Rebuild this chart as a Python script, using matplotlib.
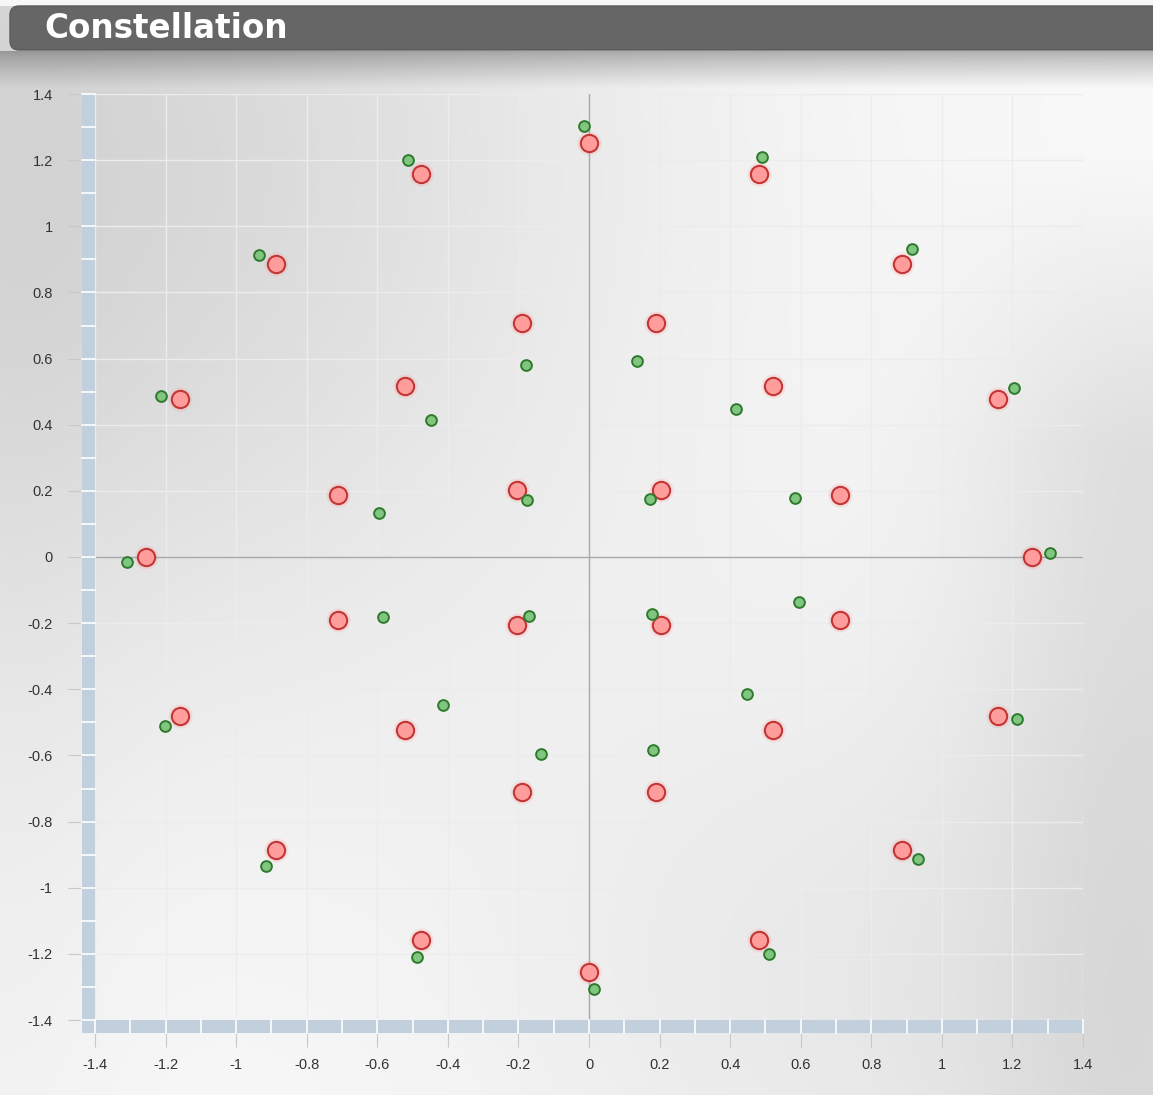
import numpy as np
import matplotlib
matplotlib.use('Agg')
import matplotlib.pyplot as plt
from matplotlib.patches import FancyBboxPatch, Rectangle

# ideal constellation points (red)
ideal_i = [0.0, -0.476, 0.482, -0.887, 0.887, -0.19, 0.19, -0.521, 0.521,
           -1.159, 1.159, -0.711, 0.711, -0.204, 0.204, -1.255, 1.255,
           -0.711, 0.711, -0.204, 0.204, -1.159, 1.159, -0.521, 0.521,
           -0.19, 0.19, -0.887, 0.887, -0.476, 0.482, 0.0]
ideal_q = [1.252, 1.158, 1.158, 0.886, 0.886, 0.708, 0.708, 0.517, 0.517,
           0.478, 0.478, 0.187, 0.187, 0.203, 0.203, 0.0, 0.0,
           -0.19, -0.19, -0.206, -0.206, -0.481, -0.481, -0.523, -0.523,
           -0.711, -0.711, -0.886, -0.886, -1.158, -1.158, -1.255]

# measured points (green)
meas_i = [-0.014, -0.513, 0.49, -0.935, 0.915, -0.179, 0.136, -0.448, 0.417,
          -1.213, 1.204, -0.595, 0.584, -0.176, 0.173, -1.309, 1.306,
          -0.584, 0.595, -0.17, 0.179, -1.201, 1.213, -0.414, 0.448,
          -0.136, 0.181, -0.915, 0.932, -0.487, 0.51, 0.014]
meas_q = [1.303, 1.2, 1.21, 0.913, 0.931, 0.581, 0.593, 0.414, 0.448,
          0.487, 0.511, 0.133, 0.178, 0.172, 0.175, -0.015, 0.012,
          -0.181, -0.136, -0.178, -0.172, -0.511, -0.49, -0.448, -0.414,
          -0.596, -0.584, -0.934, -0.913, -1.21, -1.2, -1.306]

ticks = [-1.4, -1.2, -1, -0.8, -0.6, -0.4, -0.2, 0, 0.2, 0.4, 0.6, 0.8, 1, 1.2, 1.4]
tick_labels = ['-1.4', '-1.2', '-1', '-0.8', '-0.6', '-0.4', '-0.2', '0',
               '0.2', '0.4', '0.6', '0.8', '1', '1.2', '1.4']
title = 'Constellation'

W, H = 1153, 1095
fig = plt.figure(figsize=(W / 100, H / 100), dpi=100)

# background gradient over the whole figure
bg = fig.add_axes([0, 0, 1, 1], zorder=-10)
yy, xx = np.mgrid[0:H, 0:W].astype(float)
shade = 0.978 - 0.135 * np.exp(-((xx - 80) ** 2 + (yy - 170) ** 2) / (2 * 380.0 ** 2))
shade -= 0.10 * np.exp(-(xx - W) ** 2 / (2 * 130.0 ** 2)) * np.clip((yy - 150) / 300.0, 0, 1)
shade -= 0.06 * np.exp(-((xx - 850) ** 2 + (yy - 1000) ** 2) / (2 * 260.0 ** 2))
shade -= 0.02 * np.exp(-((xx - 0) ** 2) / (2 * 90.0 ** 2))
# shadow under title bar
sh = np.clip((yy - 50) / 38.0, 0, 1)
shade = np.where(yy > 50, shade * (0.70 + 0.30 * sh ** 0.8), shade)
shade[yy < 6] = 0.97
bg.imshow(np.dstack([np.clip(shade, 0, 1)] * 3), extent=[0, W, H, 0], aspect='auto')
bg.set_xlim(0, W)
bg.set_ylim(H, 0)
bg.axis('off')

# title bar
bar = FancyBboxPatch((10, 6), W + 40, 44, boxstyle='round,pad=0,rounding_size=9',
                     facecolor='#666666', edgecolor='#5a5a5a', linewidth=1)
bg.add_patch(bar)
bg.text(44, 28, title, color='white', fontsize=23.5, fontweight='bold',
        family='DejaVu Sans', ha='left', va='center')

# plot area: x 95..1083 px, y 94..1020 px
left, right, top, bottom = 95, 1083, 94, 1020
ax = fig.add_axes([left / W, (H - bottom) / H, (right - left) / W, (bottom - top) / H])
ax.set_facecolor('none')
ax.set_xlim(-1.4, 1.4)
ax.set_ylim(-1.4, 1.4)
for s in ax.spines.values():
    s.set_visible(False)

ax.set_xticks(ticks)
ax.set_xticklabels(tick_labels, family='Liberation Sans')
ax.set_yticks(ticks)
ax.set_yticklabels(tick_labels, family='Liberation Sans')
ax.tick_params(axis='both', length=19.5, width=0.8, color='#c8c8c8',
               labelsize=10.5, labelcolor='#333333')
ax.tick_params(axis='x', pad=8)
ax.tick_params(axis='y', pad=11)
ax.grid(True, color='#ececec', linewidth=1.0, zorder=0)
ax.set_axisbelow(True)

# axis bands
px_x = 2.8 / (right - left)
px_y = 2.8 / (bottom - top)
band = '#c2d0de'
ax.add_patch(Rectangle((-1.4 - 13 * px_x, -1.4 - 13 * px_y), 13 * px_x, 2.8 + 13 * px_y,
                       facecolor=band, edgecolor='none', clip_on=False, zorder=3))
ax.add_patch(Rectangle((-1.4 - 13 * px_x, -1.4 - 13 * px_y), 2.8 + 13 * px_x, 13 * px_y,
                       facecolor=band, edgecolor='none', clip_on=False, zorder=3))
for v in np.arange(-14, 15) / 10.0:
    ax.plot([-1.4 - 13 * px_x, -1.4], [v, v], color='white', lw=1.2,
            clip_on=False, zorder=3.5)
    ax.plot([v, v], [-1.4 - 13 * px_y, -1.4], color='white', lw=1.2,
            clip_on=False, zorder=3.5)

# zero lines
ax.axhline(0, color='#a9a9a9', lw=1.0, zorder=1)
ax.axvline(0, color='#a9a9a9', lw=1.0, zorder=1)

# points
ax.scatter(ideal_i, ideal_q, s=300, color='#ff8080', alpha=0.16, linewidths=0, zorder=4)
ax.scatter(ideal_i, ideal_q, s=155, facecolor='#ff9d9d', edgecolor='#c43636',
           linewidths=1.5, zorder=5)
ax.scatter(meas_i, meas_q, s=60, facecolor='#80c680', edgecolor='#2d7a2d',
           linewidths=1.4, zorder=6)

fig.savefig('out.png', dpi=100)
